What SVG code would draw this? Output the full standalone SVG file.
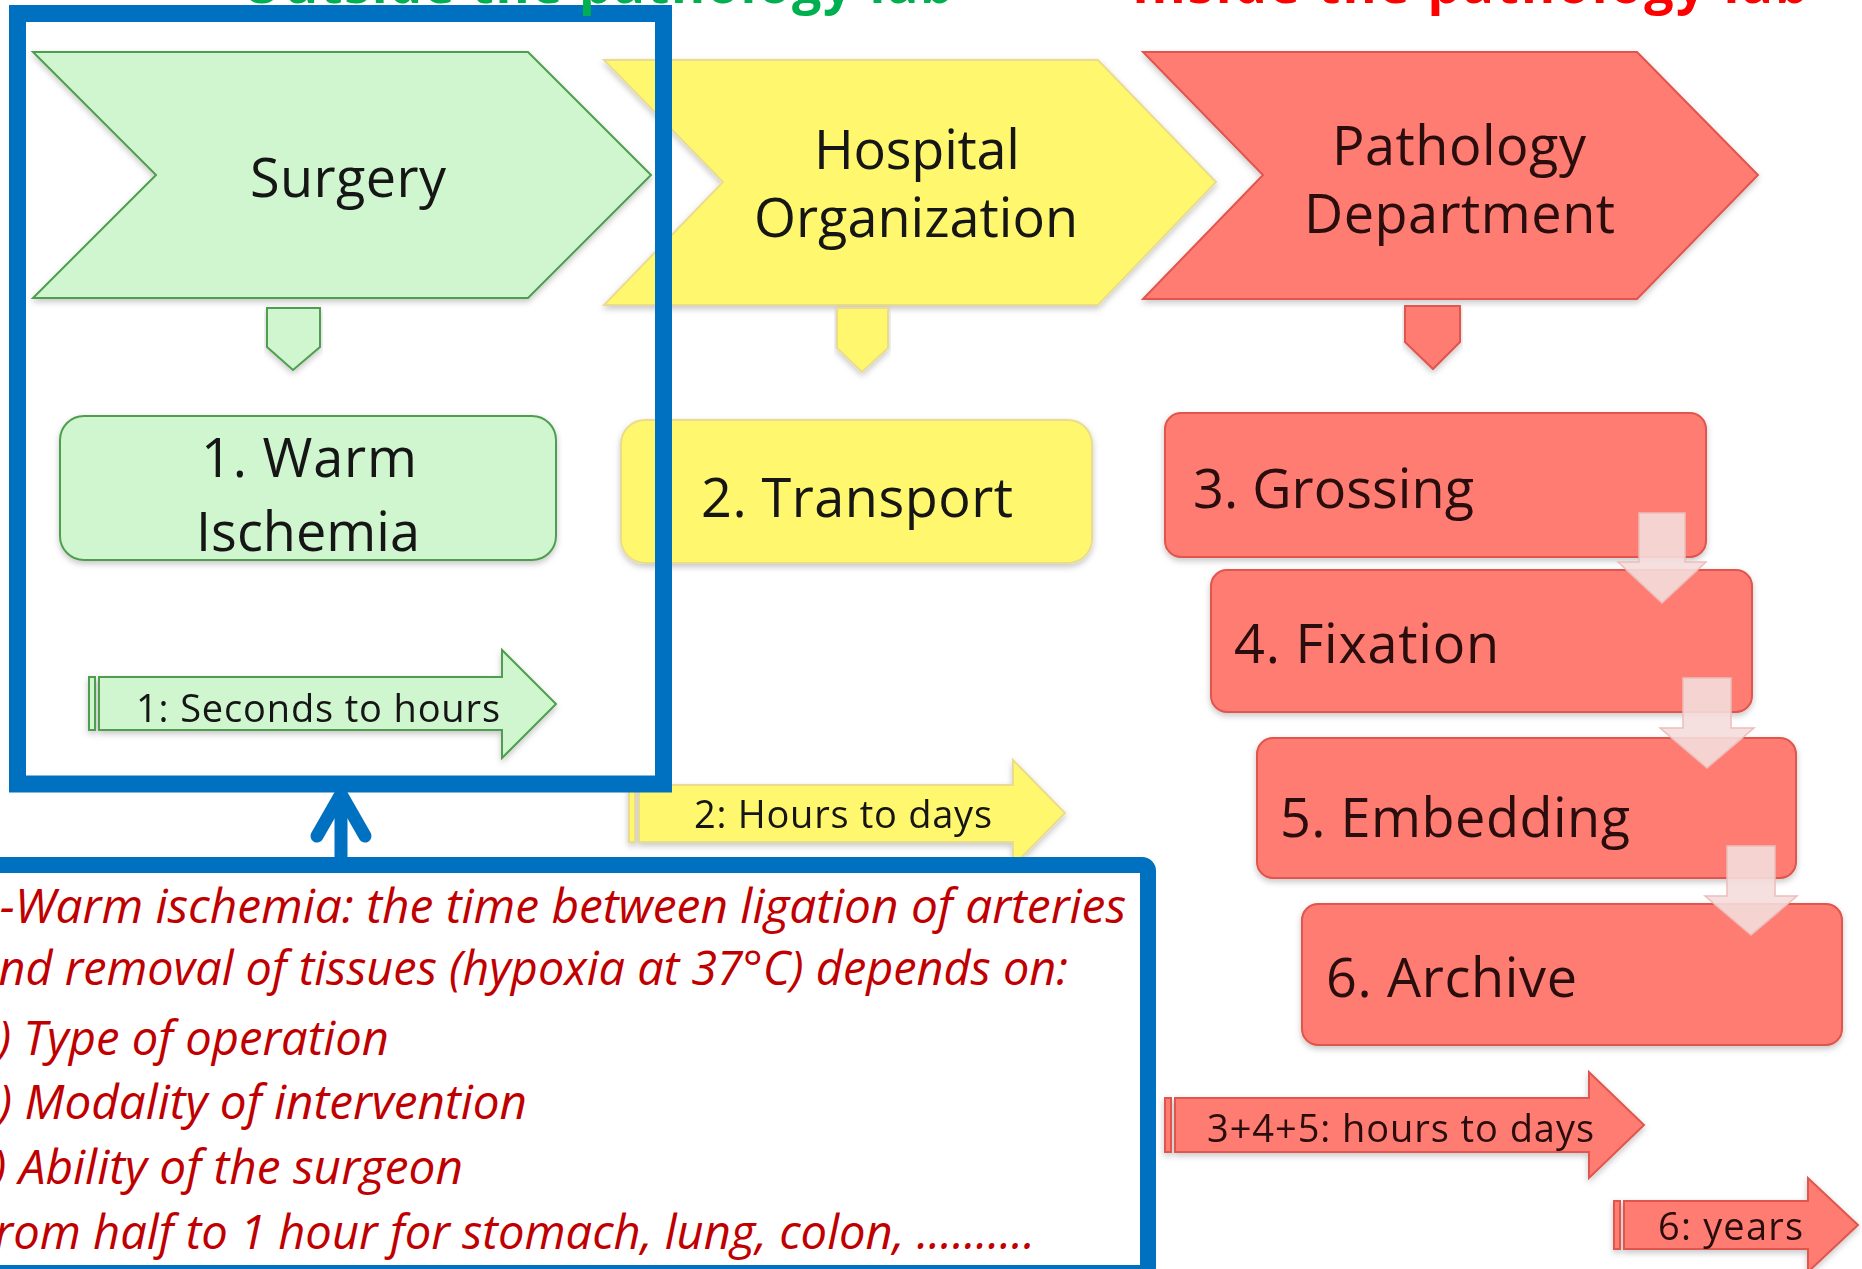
<svg xmlns="http://www.w3.org/2000/svg" width="1862" height="1269" viewBox="0 0 1862 1269">
<style>
.lbl{font-family:'Open Sans','Liberation Sans',sans-serif;font-size:54px;fill:#141414}
.lblr{font-family:'Open Sans','Liberation Sans',sans-serif;font-size:54px;fill:#2a0c0c}
.tl{font-family:'Open Sans','Liberation Sans',sans-serif;font-size:38px;fill:#141414}
.tlr{font-family:'Open Sans','Liberation Sans',sans-serif;font-size:38px;fill:#2a0c0c}
.it{font-family:'Open Sans','Liberation Sans',sans-serif;font-style:italic;font-size:48px;fill:#C00000}
.hd{font-family:'Open Sans','Liberation Sans',sans-serif;font-weight:bold;font-size:52px}
.g{fill:#CFF6CF;stroke:#4F9E4F;stroke-width:2}
.y{fill:#FFF86E;stroke:#E9DC90;stroke-width:2}
.r{fill:#FF7B72;stroke:#E0554D;stroke-width:2}
.pk{fill:#F4DDDC;fill-opacity:0.9;stroke:#EBBDBB;stroke-width:1.5}
.blue{fill:none;stroke:#0070C0}
</style>
<defs>
<filter id="sh" x="-5%" y="-5%" width="110%" height="125%">
<feDropShadow dx="0" dy="3" stdDeviation="3" flood-color="#000" flood-opacity="0.22"/>
</filter>
</defs>
<rect width="1862" height="1269" fill="#ffffff"/>

<g id="surgery" filter="url(#sh)">
<polygon class="g" points="33,52 528,52 651,175 528,298 33,298 156,175"/>
<text class="lbl" x="250" y="197" textLength="196">Surgery</text>
</g>
<g id="hospital" filter="url(#sh)">
<polygon class="y" points="604,60 1098,60 1216,182 1098,305 604,305 723,182"/>
<text class="lbl" x="814" y="169" textLength="206">Hospital</text>
<text class="lbl" x="754" y="237" textLength="324">Organization</text>
</g>
<g id="pathology" filter="url(#sh)">
<polygon class="r" points="1143,52 1637,52 1758,175 1637,299 1143,299 1263,175"/>
<text class="lblr" x="1332" y="165" textLength="254">Pathology</text>
<text class="lblr" x="1304" y="233" textLength="311">Department</text>
</g>

<g id="connectors">
<polygon class="g" points="267,308 320,308 320,347 293,370 267,347" filter="url(#sh)"/>
<polygon class="y" points="837,308 888,308 888,348 862,372 837,348" filter="url(#sh)"/>
<polygon class="r" points="1405,306 1460,306 1460,342 1433,369 1405,342" filter="url(#sh)"/>
</g>

<g id="warm" filter="url(#sh)">
<rect class="g" x="60" y="416" width="496" height="144" rx="24"/>
<text class="lbl" x="201" y="477" textLength="216">1. Warm</text>
<text class="lbl" x="196" y="551" textLength="224">Ischemia</text>
</g>
<g id="transport" filter="url(#sh)">
<rect class="y" x="621" y="420" width="471" height="143" rx="24"/>
<text class="lbl" x="701" y="517" textLength="312">2. Transport</text>
</g>
<g id="grossing" filter="url(#sh)">
<rect class="r" x="1165" y="413" width="541" height="144" rx="16"/>
<text class="lblr" x="1193" y="508" textLength="281">3. Grossing</text>
</g>
<g id="fixation" filter="url(#sh)">
<rect class="r" x="1211" y="570" width="541" height="142" rx="16"/>
<text class="lblr" x="1234" y="663" textLength="265">4. Fixation</text>
</g>
<g id="embedding" filter="url(#sh)">
<rect class="r" x="1257" y="738" width="539" height="140" rx="16"/>
<text class="lblr" x="1280" y="837" textLength="350">5. Embedding</text>
</g>
<g id="archive" filter="url(#sh)">
<rect class="r" x="1302" y="904" width="540" height="141" rx="16"/>
<text class="lblr" x="1326" y="997" textLength="251">6. Archive</text>
</g>

<g id="step-arrows">
<polygon class="pk" points="1639,513 1685,513 1685,562 1706,562 1662,603 1618,562 1639,562"/>
<polygon class="pk" points="1683,678 1731,678 1731,728 1754,728 1707,768 1660,728 1683,728"/>
<polygon class="pk" points="1727,846 1775,846 1775,896 1797,896 1751,935 1705,896 1727,896"/>
</g>

<g id="time1" filter="url(#sh)">
<rect class="g" x="89" y="677" width="6" height="53"/>
<polygon class="g" points="99,677 502,677 502,650 556,704 502,758 502,730 99,730"/>
<text class="tl" x="136" y="722" textLength="364">1: Seconds to hours</text>
</g>
<g id="time2" filter="url(#sh)">
<rect class="y" x="629" y="785" width="6" height="57"/>
<polygon class="y" points="639,785 1013,785 1013,760 1065,813 1013,866 1013,842 639,842"/>
<text class="tl" x="694" y="828" textLength="298">2: Hours to days</text>
</g>
<g id="time345" filter="url(#sh)">
<rect class="r" x="1165" y="1098" width="6" height="54"/>
<polygon class="r" points="1175,1098 1589,1098 1589,1072 1644,1125 1589,1178 1589,1152 1175,1152"/>
<text class="tlr" x="1207" y="1142" textLength="387">3+4+5: hours to days</text>
</g>
<g id="time6" filter="url(#sh)">
<rect class="r" x="1614" y="1201" width="6" height="48"/>
<polygon class="r" points="1624,1201 1808,1201 1808,1178 1858,1225 1808,1272 1808,1249 1624,1249"/>
<text class="tlr" x="1658" y="1240" textLength="145">6: years</text>
</g>

<g id="frame-outside">
<rect class="blue" x="17.5" y="13.5" width="646" height="770.5" stroke-width="17"/>
</g>

<g id="note">
<rect class="blue" x="-20" y="865" width="1168" height="408" rx="6" stroke-width="16"/>
<text class="it" x="-27" y="923" textLength="1153" lengthAdjust="spacingAndGlyphs">A-Warm ischemia: the time between ligation of arteries</text>
<text class="it" x="-28" y="985" textLength="1096" lengthAdjust="spacingAndGlyphs">and removal of tissues (hypoxia at 37°C) depends on:</text>
<text class="it" x="-29" y="1055" textLength="418" lengthAdjust="spacingAndGlyphs">a) Type of operation</text>
<text class="it" x="-29" y="1119" textLength="556" lengthAdjust="spacingAndGlyphs">b) Modality of intervention</text>
<text class="it" x="-29" y="1184" textLength="492" lengthAdjust="spacingAndGlyphs">c) Ability of the surgeon</text>
<text class="it" x="-28" y="1249" textLength="1063" lengthAdjust="spacingAndGlyphs">From half to 1 hour for stomach, lung, colon, ..........</text>
</g>

<g id="link">
<line x1="341" y1="857" x2="341" y2="797" stroke="#0070C0" stroke-width="13"/>
<polyline points="317,836 341,794 365,836" fill="none" stroke="#0070C0" stroke-width="13" stroke-linecap="round" stroke-linejoin="round"/>
</g>

<g id="headings">
<text class="hd" x="241" y="3" fill="#00B050" textLength="712">Outside the pathology lab</text>
<text class="hd" x="1132" y="3" fill="#FF0000" textLength="676">Inside the pathology lab</text>
</g>
</svg>
